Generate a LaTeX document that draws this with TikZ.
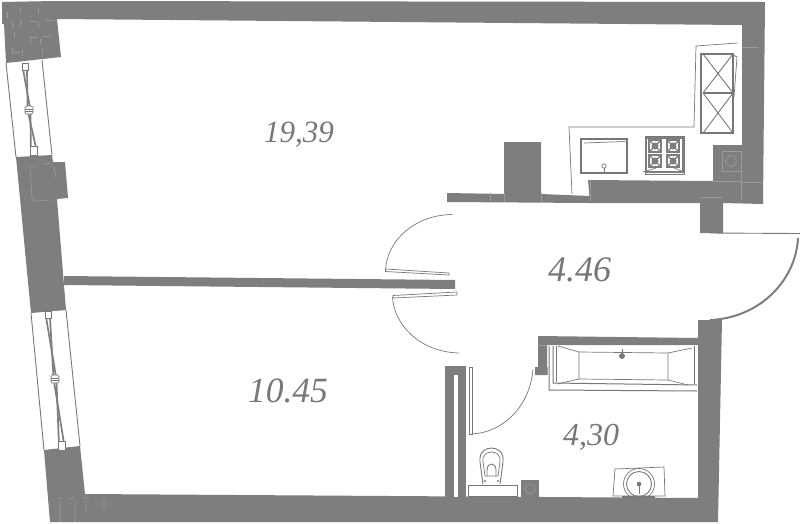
\documentclass[tikz,border=0pt]{standalone}
\usepackage{fontspec}
\setmainfont{Liberation Serif}
\definecolor{wallc}{HTML}{7D7F7F}
\definecolor{linec}{HTML}{777777}
\definecolor{seam}{HTML}{9A9A9A}
\tikzset{
 wall/.style={fill=wallc,draw=none},
 thin line/.style={draw=linec,line width=0.9pt},
 fine/.style={draw=linec,line width=0.7pt},
 seamline/.style={draw=seam,line width=0.7pt},
 area/.style={font=\itshape,text=linec,inner sep=0pt}
}
\begin{document}
\begin{tikzpicture}[x=1pt,y=-1pt]
\useasboundingbox (0,0) rectangle (800,523);
% outer walls
\path[wall] (2,2) -- (55,1) -- (765,2) -- (763,204) -- (723,203) -- (723,233) -- (700,233) -- (700,203) -- (590,203) -- (588,180) -- (713,181) -- (713,145) -- (742,145) -- (742,25) -- (57,19) -- (61,57) -- (6,63) -- (4,24) -- (2,24) -- cycle;
\path[wall] (447,193) -- (504,194) -- (504,142) -- (541,142) -- (541,194) -- (590,196) -- (590,203) -- (447,202) -- cycle;
% left walls
\path[wall] (16,157) -- (52,155) -- (53,162) -- (65,162) -- (68,198) -- (57,199) -- (66,310) -- (31,313) -- cycle;
\path[wall] (44,450) -- (80,446) -- (85,494) -- (698,498) -- (698,320) -- (722,320) -- (718,522) -- (50,522) -- cycle;
% windows
\draw[thin line] (6,63) -- (16,157) (42,60) -- (52,155);
\draw[thin line] (31,313) -- (44,450) (66,310) -- (80,446);
\foreach \a/\b/\c/\d/\e/\f in {25/70/29/110/33/146, 48/318/55/379/61/441}{
  \draw[fine,fill=white] (\a-3,\b-7) rectangle (\a+3,\b);
  \draw[fine,fill=white] (\e-3,\f) rectangle (\e+4,\f+9);
  \draw[draw=wallc,line width=1.7pt] (\a-1.8,\b) -- (\c+1.4,\d) -- (\e-2.2,\f);
  \draw[draw=wallc,line width=1.7pt] (\a+2,\b) -- (\c-1.4,\d) -- (\e+2.6,\f);
  \draw[fine,fill=white,rounded corners=1.5pt] (\c-4,\d-4) rectangle (\c+4,\d+4);
  \draw[fine] (\c-4,\d-1) -- (\c+4,\d-1) (\c-4,\d+1) -- (\c+4,\d+1);
}
% partition and doors
\path[wall] (64,276) -- (455,280) -- (455,289) -- (64,285) -- cycle;
\draw[fine,fill=white] (385.5,269) -- (449,273) -- (449,275) -- (385.5,271.5) -- cycle;
\draw[fine,fill=white] (393,295.5) -- (457,292) -- (457,295) -- (393,298) -- cycle;
\draw[fine] (385.5,270) .. controls (387,240) and (415,215) .. (452,214.5);
\draw[fine] (392.5,297) .. controls (394,325) and (420,352) .. (459,353);
% entry door
\draw[thin line] (710,233) -- (800,233.5);
\draw[draw=wallc,line width=2pt] (798,238) .. controls (796,280) and (760,318) .. (710,320);
% kitchen counter
\draw[fine] (572,194) -- (569,127) -- (694,127) -- (696,46) -- (737,43);
\draw[thin line,line width=1.3pt] (701,54) rectangle (733,133);
\draw[thin line,line width=1.3pt] (703,93) -- (733,93);
\draw[thin line] (703,54) -- (733,93) (733,54) -- (703,93) (703,93) -- (733,133) (733,93) -- (703,133);
\draw[fine] (733,55) -- (737,57) -- (734,97);
% sink
\draw[draw=linec,line width=2pt] (581,139) rectangle (626.5,173);
\draw[fine] (584,143) -- (625,141.5);
\draw[fine] (604,166) circle (2.2);
\draw[fine] (604,168) -- (604,173);
% hob
\draw[fine] (645,136.5) rectangle (684,174);
\draw[draw=wallc,line width=1.2pt] (646,138) rectangle (683,172);
\foreach \hx/\hy in {655/146,673/146,655/161,673/161}{
  \draw[draw=wallc,line width=1.4pt] (\hx-6,\hy-6) rectangle (\hx+6,\hy+6);
  \draw[draw=wallc,line width=1.4pt] (\hx-6,\hy-6) -- (\hx+6,\hy+6) (\hx+6,\hy-6) -- (\hx-6,\hy+6);
  \fill[wallc] (\hx,\hy) circle (3.5);
}
\draw[fine] (643,172) -- (656,168) (684,172) -- (674,168);
% vent
\draw[seamline] (722,151) rectangle (741,171);
\draw[seamline] (731,161) circle (5.5);
% seams
\draw[seamline] (490,193) -- (490,202) (504,193) -- (504,202) (541,193) -- (541,202) (590,180) -- (590,200) (700,197) -- (723,197);
\draw[seamline] (742,182) -- (763,182) (742,47) -- (758,47) (713,181) -- (741,181) (741,171) -- (741,200);
% brickwork
\foreach \p/\q in {7/12, 12/22, 20/8, 20/20, 38/8, 38/22, 14/32, 30/36, 40/38, 12/48, 22/50, 42/48}{
  \draw[seamline] (\p,\q) -- (\p,\q+6);
}
\draw[seamline] (30,21) -- (37,21) (45,20) -- (55,20) (30,37) -- (37,37) (43,36) -- (50,36) (12,52) -- (20,52);
\draw[seamline] (30,166) -- (34,165) (43,164) -- (50,163) (30,168) -- (32,198) -- (35,201) -- (50,200) (54,167) -- (56,178);
\draw[seamline] (58,499) -- (62,498) (68,499) -- (75,498) (83,498) -- (90,498) (60,501) -- (60,522) (75,501) -- (75,522) (86,500) -- (86,512) (104,498) -- (104,510);
% bathroom walls
\path[wall] (538,336) -- (698,338) -- (698,345) -- (547,345) -- (547,375) -- (535,375) -- (535,367) -- (538,367) -- cycle;
\draw[seamline] (547,367) -- (547,375) (538,345) -- (547,345);
% bath
\draw[fine,line width=1pt] (549,346) -- (549,390) -- (697,391);
\draw[fine,line width=1pt] (553,346) -- (553,383) -- (697,385);
\draw[fine] (556,346) -- (556,382);
\draw[fine] (694,346) -- (694,384);
\draw[fine] (558,346) -- (579,352) -- (668,353) -- (692,348);
\draw[fine] (579,352) -- (579,379) -- (668,380) -- (668,353);
\draw[fine] (557,384) -- (579,379) (668,380) -- (688,385);
\draw[fine] (622,349) -- (622,358);
\draw[fine,fill=linec] (622,356) circle (2.5);
% left bathroom partition
\path[wall] (445,366) -- (466,366) -- (466,498) -- (445,498) -- cycle;
\path[fill=white] (454,375) rectangle (458,497);
% bath door
\draw[fine,fill=white] (469,367.5) rectangle (472,434);
\draw[fine] (472,434) .. controls (505,432) and (530,405) .. (533,369);
% toilet
\draw[thin line] (483,484) -- (480,462) .. controls (479,452) and (485,448) .. (491.5,448) .. controls (498,448) and (504,452) .. (503,462) -- (500,484);
\draw[fine] (483,462) .. controls (482,455) and (487,452) .. (491.5,452) .. controls (496,452) and (501,455) .. (500,462) -- (498,476) -- (485,476) -- cycle;
\draw[thin line] (487,476) -- (487,470) .. controls (487,462) and (496,462) .. (496,470) -- (496,476);
\fill[linec] (485,481) circle (1.1) (498,481) circle (1.1);
\draw[fine] (468,485) rectangle (517,496);
% riser
\path[fill=wallc] (521,480) rectangle (539,498);
\draw[seamline] (530,489) circle (5);
% sink bathroom
\draw[fine] (615,469) -- (664,467) -- (665,496) -- (613,496) -- cycle;
\draw[thin line] (639,484) circle (12.5);
\draw[fine] (639,484) circle (15.5);
\fill[linec] (639,484) circle (2.3);
\draw[fine] (639,484) -- (639,494);
\draw[fine,line width=1.3pt] (622,497) -- (655,497);
% labels
\node[area,font=\itshape\fontsize{31}{31}\selectfont] (a) at (299,135) {19,39};
\node[area,font=\itshape\fontsize{36}{36}\selectfont] (b) at (579.5,270) {4.46};
\node[area,font=\itshape\fontsize{35.5}{36}\selectfont] (c) at (288,391) {10.45};
\node[area,font=\itshape\fontsize{32}{32}\selectfont] (d) at (591,437) {4,30};
\end{tikzpicture}
\end{document}
